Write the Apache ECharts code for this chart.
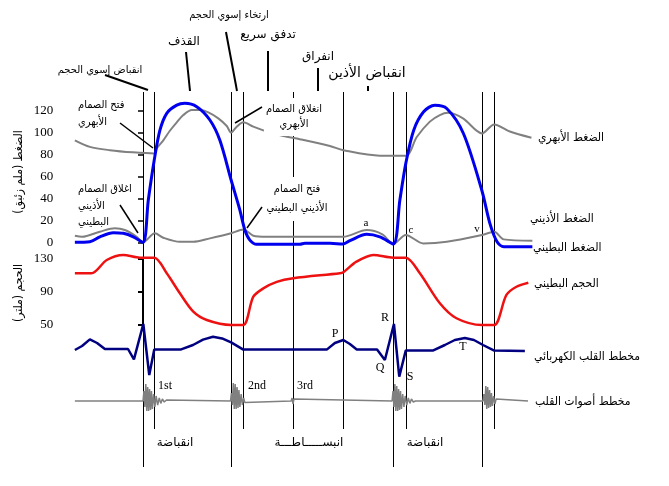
<!DOCTYPE html>
<html><head><meta charset="utf-8">
<script src="https://cdn.jsdelivr.net/npm/echarts@6/dist/echarts.min.js"></script>
<style>html,body{margin:0;padding:0;background:#fff}#c{width:669px;height:486px}</style>
</head><body><div id="c"></div>
<script>
// time in ms, cycle ~ 800 ms
const eventTimes = [0, 36, 282, 321, 480, 641, 801, 841, 1085, 1124];
const eventLong  = [true, false, true, false, false, false, true, false, true, false];

const aorticPressure = [[-218,93],[-170,87],[-106,84],[-32,82],[36,81],[44,85.7],[65,93],[86,101.7],[108,109.4],[129,116],[156,120.6],[182,120.6],[209,118.5],[241,113],[268,106],[282,100],[300,105.4],[321,109.4],[353,105.4],[396,101],[449,97],[502,94],[598,87.8],[641,84],[758,79],[841,79],[876,96],[918,110],[950,116],[976,118],[1024,113],[1085,99.3],[1124,107.5],[1174,101],[1243,95.3]];
const atrialPressure = [[-218,6],[-195,5],[-138,9.7],[-90,12.8],[-58,11.2],[-20,5],[0,0],[38,8.2],[65,4.2],[118,0.5],[161,0.5],[214,3.6],[282,8.2],[321,11.8],[353,6],[396,5],[598,5],[641,5],[716,11.2],[766,7.3],[801,-1.5],[841,6.7],[897,-1],[972,0.5],[1085,6.7],[1124,9.7],[1154,2.7],[1246,1.5]];
const ventricularPressure = [[-218,0],[-170,0.5],[-138,5],[-95,8.8],[-63,8.2],[-31,5],[0,0],[17,38.6],[36,75],[54,102],[76,117.6],[108,125],[134,126.7],[172,123.6],[214,111.5],[246,93],[282,56.8],[310,29.4],[326,11.2],[342,2],[364,-1.8],[502,-1.8],[518,-0.9],[598,-0.9],[641,-1.5],[662,1.5],[716,7.3],[758,5],[801,-1.5],[822,38.6],[841,72],[866,102],[898,119],[934,125],[972,122],[1025,99.4],[1084,47.7],[1110,17.3],[1133,0.5],[1155,-4],[1246,-4]];
const ventricularVolume = [[-218,112.5],[-165,112.5],[-116,128.8],[-63,135],[-10,131.6],[36,131.6],[76,112.5],[118,88],[161,65.5],[204,55.3],[282,49.2],[321,49.2],[353,83.8],[385,94],[428,102],[481,106.4],[630,112.5],[641,113.7],[683,126.7],[737,135],[801,131.6],[841,131.6],[886,112.5],[950,75.7],[1003,57.4],[1085,49.2],[1124,49.2],[1163,86],[1195,96],[1233,101]];
const ecg = [[-218,0],[-195,0.2],[-170,0.53],[-147,0.35],[-122,0.05],[-48,0.05],[-29,-0.47],[1,1.3],[20,-1.25],[36,0.03],[122,0.03],[160,0.25],[192,0.52],[224,0.66],[253,0.58],[282,0.38],[321,0.02],[588,0.02],[614,0.35],[641,0.5],[662,0.3],[684,0.03],[749,0.03],[774,-0.5],[803,1.3],[820,-1.33],[841,-0.02],[929,-0.02],[966,0.25],[998,0.5],[1030,0.6],[1059,0.5],[1088,0.25],[1124,-0.03],[1222,-0.05]];
const heartSounds = [[-218,0],[0,0],[3,0.5],[6,-0.3],[9,0.85],[12,-0.5],[15,0.7],[18,-0.5],[21,0.6],[24,-0.45],[27,0.5],[30,-0.4],[34,0.35],[38,-0.3],[42,0.25],[47,-0.2],[52,0.15],[57,-0.12],[62,0.1],[68,-0.05],[75,0.05],[80,0],
 [280,0],[283,0.4],[286,-0.2],[289,0.9],[292,-0.4],[295,0.85],[298,-0.4],[301,0.7],[304,-0.35],[307,0.55],[310,-0.3],[314,0.35],[318,-0.2],[322,0.15],[326,-0.08],[330,0],
 [474,0],[477,0.15],[480,-0.15],[483,0.1],[486,0],
 [797,0],[800,0.5],[803,-0.3],[806,0.85],[809,-0.5],[812,0.75],[815,-0.5],[818,0.6],[821,-0.45],[824,0.5],[827,-0.4],[831,0.35],[835,-0.3],[839,0.25],[844,-0.2],[849,0.15],[854,-0.12],[859,0.1],[865,-0.05],[872,0],
 [1088,0],[1091,0.35],[1094,-0.2],[1097,0.75],[1100,-0.4],[1103,0.7],[1106,-0.35],[1109,0.55],[1112,-0.3],[1115,0.4],[1118,-0.25],[1122,0.25],[1126,-0.15],[1130,0.1],[1134,0],[1232,0]];
const pressureTicks = [0,20,40,60,80,100,120];

const AR = 'DejaVu Sans', ARC = "'DejaVu Sans Condensed', 'DejaVu Sans'", SERIF = 'Liberation Serif';
const chart = echarts.init(document.getElementById('c'));
const gl = 74.25, gr = 138.5, X0 = -220, X1 = 1240;
const grids = [
  {left:gl,right:gr,top:99.7,height:153.6},
  {left:gl,right:gr,top:259,height:65.3},
  {left:gl,right:gr,top:320,height:60},
  {left:gl,right:gr,top:381,height:40},
  {left:gl,right:gr,top:0,height:486}
];
const xAxes = grids.map((g,i)=>({gridIndex:i,type:'value',min:X0,max:X1,show:false}));
const hiddenY = (i,min,max,extra)=>Object.assign({gridIndex:i,type:'value',min:min,max:max,show:false},extra||{});
const yAxes = [
  {gridIndex:0,type:'value',min:-10,max:130,offset:9,
   axisLine:{show:false},
   axisTick:{show:true,length:5,customValues:pressureTicks,lineStyle:{color:'#000',width:1.5}},
   axisLabel:{customValues:pressureTicks,color:'#000',fontFamily:SERIF,fontSize:13,margin:12},
   splitLine:{show:false}},
  {gridIndex:1,type:'value',min:50,max:130,interval:40,offset:9,
   axisLine:{show:true,lineStyle:{color:'#000',width:2}},
   axisTick:{show:true,length:5,lineStyle:{color:'#000',width:2}},
   axisLabel:{color:'#000',fontFamily:SERIF,fontSize:13,margin:12},
   splitLine:{show:false}},
  hiddenY(2,-1.5,1.5),
  hiddenY(3,-1,1),
  hiddenY(4,0,486,{inverse:true})
];
const lineS = (data,g,color,width,smooth,z)=>({type:'line',xAxisIndex:g,yAxisIndex:g,data:data,showSymbol:false,symbol:'none',smooth:smooth,clip:false,z:z,lineStyle:{color:color,width:width},silent:true});
const series = [
  {type:'lines',coordinateSystem:'cartesian2d',xAxisIndex:4,yAxisIndex:4,z:1,silent:true,
   lineStyle:{color:'#000',width:1,opacity:1},
   data:eventTimes.map((t,i)=>({coords:[[t,92],[t,eventLong[i]?467:429]]}))},
  lineS(aorticPressure,0,'#808080',2,0.3,3),
  lineS(atrialPressure,0,'#808080',2,0.3,3),
  lineS(ventricularPressure,0,'#0000ee',3,0.3,4),
  lineS(ventricularVolume,1,'#ee1111',2.5,0.3,3),
  lineS(ecg,2,'#000080',2.5,false,3),
  lineS(heartSounds,3,'#808080',1.5,false,3)
];
function T(text,x,y,o){o=o||{};return {type:'text',x:x,y:y,rotation:o.rot||0,z:o.z||10,style:{text:text,fill:'#000',fontFamily:o.ff||AR,fontSize:o.fs||12,align:o.align||'center',verticalAlign:o.va||'middle',lineHeight:o.lh,backgroundColor:o.bg,padding:o.pad}};}
function L(x1,y1,x2,y2,w){return {type:'line',z:9,shape:{x1:x1,y1:y1,x2:x2,y2:y2},style:{stroke:'#000',lineWidth:w||1.5}};}
const graphic = [
  T('الضغط (ملم زئبق)',19,172,{rot:Math.PI/2,fs:12,ff:ARC}),
  T('الحجم (ملتر)',19,293,{rot:Math.PI/2,fs:12,ff:ARC}),
  // top phase labels
  T('انقباض إسوي الحجم',100,70,{fs:10}), L(105,75,148,90,2),
  T('القذف',184,42,{fs:12}), L(186,52,190,91,2),
  T('ارتخاء إسوي الحجم',229,15,{fs:11,ff:ARC}), L(226,32,237,91,2),
  T('تدفق سريع',268,35,{fs:12}), L(268,51,268,91,2),
  T('انفراق',318,57,{fs:12}), L(318,68,318,91,2),
  T('انقباض الأذين',367,73,{fs:14}), L(368,86,368,91,2),
  // valve annotations
  T('فتح الصمام\nالأبهري',78,97,{fs:11,ff:ARC,align:'left',va:'top',lh:17}), L(120,123,153,148,1.5),
  T('انغلاق الصمام\nالأبهري',294,117,{fs:11,ff:ARC,lh:15,bg:'#fff',pad:[4,2,4,2]}), L(262,107,235,123,1.5),
  T('اغلاق الصمام\nالأذيني\nالبطيني',78,181,{fs:11,ff:ARC,align:'left',va:'top',lh:16.5}), L(120,205,138,233,1.5),
  T('فتح الصمام\nالأذيني البطيني',297,199,{fs:11,ff:ARC,lh:19,bg:'#fff',pad:[3,2,3,2]}), L(262,207,247,228,1.5),
  // wave letters
  T('a',366,223,{ff:SERIF,fs:11}), T('c',411,230,{ff:SERIF,fs:11}), T('v',477,229,{ff:SERIF,fs:11}),
  T('P',335,334,{ff:SERIF,fs:12}), T('R',385,318,{ff:SERIF,fs:12}), T('Q',380,368,{ff:SERIF,fs:12}),
  T('S',410,377,{ff:SERIF,fs:12}), T('T',463,347,{ff:SERIF,fs:12}),
  T('1st',165,386,{ff:SERIF,fs:12}), T('2nd',257,386,{ff:SERIF,fs:12}), T('3rd',305,386,{ff:SERIF,fs:12}),
  T('انقباضة',175,443,{fs:12}), T('انبســـــاطـــة',309,443,{fs:12}), T('انقباضة',425,443,{fs:12}),
  // series names
  T('الضغط الأبهري',538,138,{align:'left',fs:12,ff:ARC}),
  T('الضغط الأذيني',530,219,{align:'left',fs:12,ff:ARC}),
  T('الضغط البطيني',533,248,{align:'left',fs:12,ff:ARC}),
  T('الحجم البطيني',534,284,{align:'left',fs:12,ff:ARC}),
  T('مخطط القلب الكهربائي',534,357,{align:'left',fs:12,ff:ARC}),
  T('مخطط أصوات القلب',535,402,{align:'left',fs:12,ff:ARC})
];
chart.setOption({animation:false,backgroundColor:'#fff',grid:grids,xAxis:xAxes,yAxis:yAxes,series:series,graphic:graphic});
</script></body></html>
